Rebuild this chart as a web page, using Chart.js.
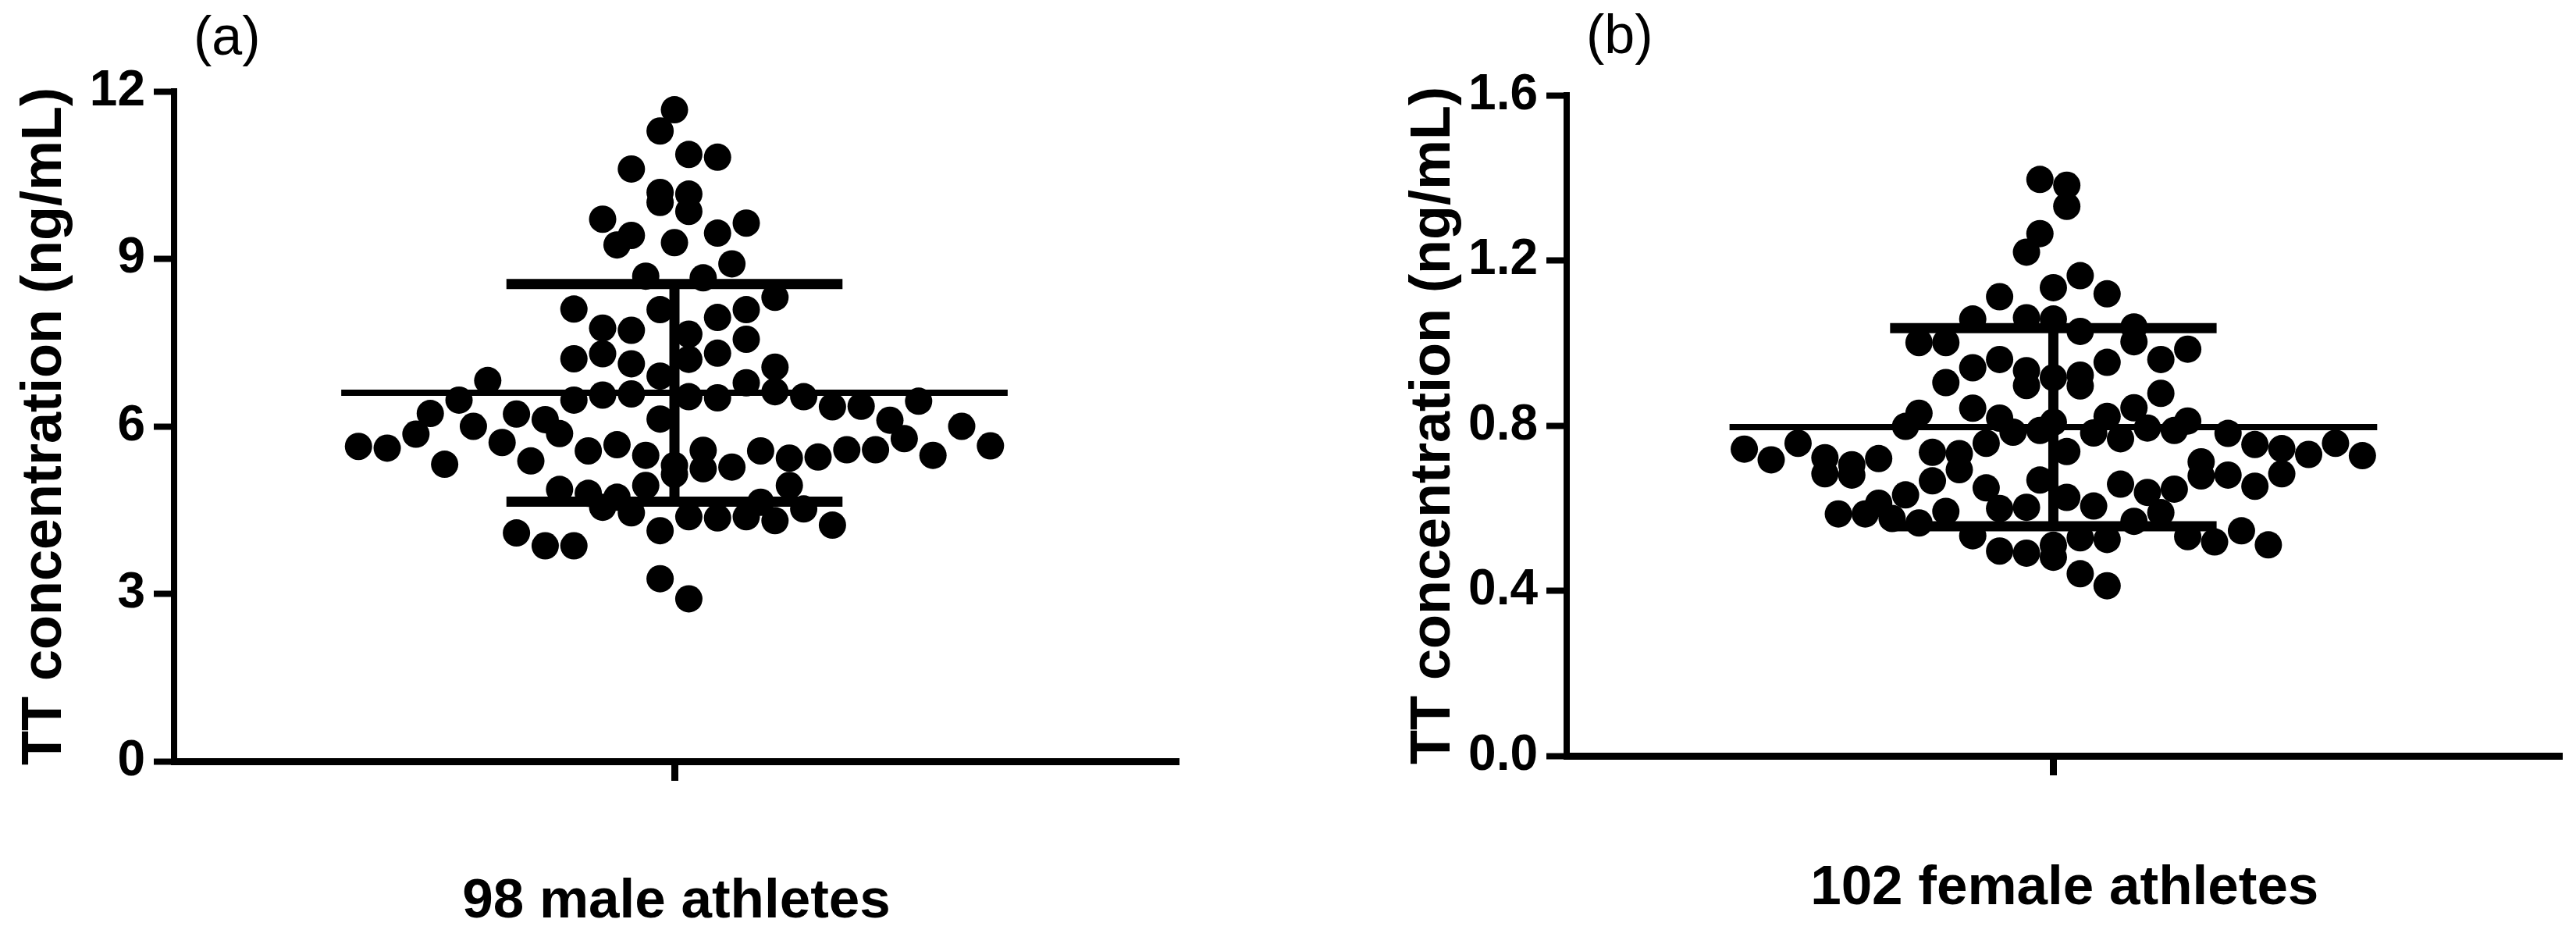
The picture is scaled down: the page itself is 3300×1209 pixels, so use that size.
<!DOCTYPE html>
<html>
<head>
<meta charset="utf-8">
<title>TT concentration in athletes</title>
<script src="https://cdn.jsdelivr.net/npm/chart.js@4.4.1/dist/chart.umd.min.js"></script>
<style>
  html, body { margin: 0; padding: 0; background: #fff; overflow: hidden; }
  #page { position: relative; width: 3300px; height: 1209px; }
  .panel { position: absolute; top: 0; width: 1650px; height: 1209px; }
  .tag { position: absolute; font-family: "Liberation Sans", Arial, sans-serif; font-size: 70px; line-height: 70px; color: #000; }
</style>
</head>
<body>
<div id="page">
  <div class="panel" style="left:0"><canvas id="chartA"></canvas></div>
  <div class="panel" style="left:1650px"><canvas id="chartB"></canvas></div>
  <div class="tag" id="tagA" style="left:248px;top:11px"></div>
  <div class="tag" id="tagB" style="left:2032px;top:9px"></div>
</div>
<script>
const panelTags = ["(a)", "(b)"];
const groups = ["98 male athletes", "102 female athletes"];
const yTitle = "TT concentration (ng/mL)";

const maleTicks = [0, 3, 6, 9, 12];
const femaleTicks = [0, 0.4, 0.8, 1.2, 1.6];

// TT of every dot (ng/mL)
const maleValues = [
  11.67, 11.29, 10.87, 10.82, 10.61, 10.19, 10.01, 10.16, 9.85, 9.71,
  9.42, 9.25, 9.29, 9.46, 9.64, 8.91, 8.69, 8.66, 8.31, 8.10,
  8.09, 8.09, 7.95, 7.76, 7.72, 7.65, 7.20, 7.56, 7.31, 7.21,
  7.30, 7.12, 6.90, 7.06, 6.82, 6.47, 6.23, 5.86, 5.61, 5.64,
  5.32, 6.00, 6.22, 6.12, 5.87, 5.71, 5.38, 6.47, 6.56, 6.58,
  6.13, 6.53, 5.56, 5.67, 5.48, 5.30, 5.14, 6.78, 6.62, 6.51,
  6.53, 6.35, 6.36, 6.45, 6.11, 5.78, 6.00, 5.65, 5.48, 5.58,
  5.58, 5.45, 5.43, 4.94, 5.56, 5.27, 5.57, 5.24, 4.64, 4.52,
  4.23, 4.38, 4.36, 4.38, 4.31, 2.91, 3.27, 4.87, 4.80, 4.73,
  4.94, 4.55, 4.45, 4.13, 4.09, 3.86, 3.86
];
// swarm column of every dot, counted in half dot widths from the group centre
const maleCols = [
  0, -1, 1, 3, -3, -1, -1, 1, 1, -5,
  -3, -4, 0, 3, 5, 4, -2, 2, 7, -7,
  -1, 5, 3, -5, -3, 1, 1, 5, 3, -7,
  -5, -3, -1, 7, -13, -15, -17, -18, -20, -22,
  -16, -14, -11, -9, -8, -12, -10, -7, -5, -3,
  -1, 1, -6, -4, -2, 0, 0, 5, 7, 3,
  9, 11, 13, 17, 15, 16, 20, 22, 18, 14,
  12, 10, 8, 8, 6, 4, 2, 2, 6, 9,
  11, 1, 3, 5, 7, 1, -1, -8, -6, -4,
  -2, -5, -3, -1, -11, -9, -7
];
const maleMean = 6.60;
const maleSD = 1.95;

const femaleValues = [
  1.396, 1.382, 1.331, 1.265, 1.220, 1.112, 1.134, 1.163, 1.119, 1.058,
  1.061, 1.058, 1.028, 1.039, 1.003, 0.960, 0.985, 1.001, 1.001, 0.960,
  0.940, 0.904, 0.933, 0.897, 0.916, 0.922, 0.896, 0.953, 0.878, 0.842,
  0.830, 0.798, 0.818, 0.784, 0.788, 0.808, 0.757, 0.822, 0.843, 0.782,
  0.768, 0.794, 0.788, 0.811, 0.781, 0.754, 0.744, 0.730, 0.757, 0.727,
  0.737, 0.712, 0.678, 0.680, 0.653, 0.683, 0.646, 0.638, 0.658, 0.605,
  0.626, 0.589, 0.568, 0.668, 0.531, 0.518, 0.545, 0.511, 0.528, 0.524,
  0.510, 0.481, 0.441, 0.412, 0.717, 0.743, 0.757, 0.722, 0.683, 0.705,
  0.680, 0.720, 0.735, 0.732, 0.693, 0.666, 0.632, 0.649, 0.599, 0.602,
  0.586, 0.586, 0.612, 0.575, 0.564, 0.592, 0.533, 0.496, 0.491
];
const femaleCols = [
  -1, 1, 1, -1, -2, -4, 0, 2, 4, -6,
  -2, 0, 2, 6, 6, 8, 10, -10, -8, -4,
  -6, -8, -2, -2, 0, 2, 2, 4, 8, -6,
  -10, -11, -4, -3, -1, 0, -5, 4, 6, 3,
  5, 7, 9, 10, 13, 15, 17, 19, 21, 23,
  1, 11, 11, 13, 15, 17, 9, 7, 5, 3,
  1, 8, 6, -1, 10, 12, 14, 16, 2, 4,
  0, 0, 2, 4, -21, -23, -19, -17, -17, -15,
  -15, -13, -9, -7, -7, -9, -11, -5, -4, -2,
  -16, -14, -13, -12, -10, -8, -6, -4, -2
];
const femaleMean = 0.796;
const femaleSD = 0.24;

const FONT = "'Liberation Sans', Arial, sans-serif";

function bar(x1, y1, x2, y2, width) {
    return {
        data: [{x: x1, y: y1}, {x: x2, y: y2}],
        showLine: true,
        borderColor: "#000",
        borderWidth: width,
        borderCapStyle: "butt",
        pointRadius: 0,
        pointHoverRadius: 0,
        order: 1
    };
}

function makePanel(canvasId, p) {
    var dots = p.values.map((v, i) => ({x: p.cols[i], y: v}));
    var datasets = [
        {
            data: dots,
            backgroundColor: "#000",
            borderWidth: 0,
            pointRadius: 17.5,
            pointHoverRadius: 17.5,
            order: 2
        },
        bar(-p.meanHalf, p.mean, p.meanHalf, p.mean, 8),
        bar(-p.sdHalf, p.mean + p.sd, p.sdHalf, p.mean + p.sd, 13),
        bar(-p.sdHalf, p.mean - p.sd, p.sdHalf, p.mean - p.sd, 13),
        bar(0, p.mean - p.sd, 0, p.mean + p.sd, 13)
    ];
    var options = {
        responsive: true,
        maintainAspectRatio: false,
        animation: false,
        events: [],
        clip: false,
        layout: { padding: { left: 0, right: p.padRight, top: p.padTop, bottom: 0 } },
        plugins: {
            legend: { display: false },
            tooltip: { enabled: false }
        },
        scales: {
            x: {
                type: "linear",
                min: p.xMin,
                max: p.xMax,
                afterBuildTicks: (s) => { s.ticks = [{value: 0}]; },
                afterFit: (s) => { s.height = p.xHeight; },
                ticks: { display: false },
                grid: { drawOnChartArea: false, drawTicks: true, tickLength: 25, tickWidth: 9, tickColor: "#000" },
                border: { color: "#000", width: 9 },
                title: {
                    display: true,
                    text: p.group,
                    color: "#000",
                    font: { family: FONT, size: 71, weight: "bold", lineHeight: 1 },
                    padding: { top: 0, bottom: p.groupPad }
                }
            },
            y: {
                type: "linear",
                min: p.ticks[0],
                max: p.ticks[p.ticks.length - 1],
                afterBuildTicks: (s) => { s.ticks = p.ticks.map((v) => ({value: v})); },
                afterFit: (s) => { s.width = p.yWidth; },
                ticks: {
                    color: "#000",
                    padding: 11,
                    font: { family: FONT, size: 64, weight: "bold" },
                    callback: (v) => Number(v).toFixed(p.decimals)
                },
                grid: { drawOnChartArea: false, drawTicks: true, tickLength: 26, tickWidth: 8, tickColor: "#000" },
                border: { color: "#000", width: 8 },
                title: {
                    display: true,
                    text: yTitle,
                    color: "#000",
                    font: { family: FONT, size: 72, weight: "bold", lineHeight: 1 },
                    padding: { top: p.titlePad, bottom: 0 }
                }
            }
        }
    };
    const ctx = document.getElementById(canvasId).getContext("2d");
    return new Chart(ctx, { type: "scatter", data: { datasets: datasets }, options: options });
}

document.getElementById("tagA").textContent = panelTags[0];
document.getElementById("tagB").textContent = panelTags[1];

makePanel("chartA", {
    values: maleValues, cols: maleCols, mean: maleMean, sd: maleSD,
    ticks: maleTicks, decimals: 0, group: groups[0],
    meanHalf: 23.2, sdHalf: 11.7,
    xMin: -34.84, xMax: 35.11,
    yWidth: 223, padRight: 140, padTop: 117, xHeight: 234,
    groupPad: 18, titlePad: 22
});

makePanel("chartB", {
    values: femaleValues, cols: femaleCols, mean: femaleMean, sd: femaleSD,
    ticks: femaleTicks, decimals: 1, group: groups[1],
    meanHalf: 24.1, sdHalf: 12.15,
    xMin: -36.22, xMax: 37.88,
    yWidth: 357, padRight: 0, padTop: 122, xHeight: 241,
    groupPad: 35, titlePad: 151
});
</script>
</body>
</html>
